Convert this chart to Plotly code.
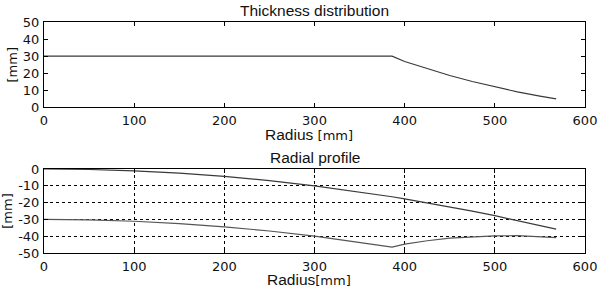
import plotly.graph_objects as go

# Thickness distribution
radius_t = [0, 386, 400, 425, 450, 475, 500, 525, 550, 568]
thickness = [30, 30, 26.9, 22.6, 18.7, 15.2, 12.0, 9.1, 6.6, 5.0]

# Radial profile
radius_p = [0, 50, 100, 150, 200, 250, 300, 350, 386, 400, 425, 450, 475, 500, 525, 550, 568]
upper = [0, -0.3, -1.1, -2.5, -4.4, -6.9, -10.0, -13.6, -16.5, -17.8, -20.1, -22.5, -25.1, -27.8, -30.6, -33.6, -35.8]
lower = [-30, -30.3, -31.1, -32.5, -34.4, -36.9, -40.0, -43.6, -46.5, -44.7, -42.7, -41.2, -40.3, -39.8, -39.7, -40.2, -40.8]

x_ticks = [0, 100, 200, 300, 400, 500, 600]
x_ticktext = ["0", "100", "200", "300", "400", "500", "600"]
y1_ticks = [0, 10, 20, 30, 40, 50]
y1_ticktext = ["0", "10", "20", "30", "40", "50"]
y2_ticks = [0, -10, -20, -30, -40, -50]
y2_ticktext = ["0", "-10", "-20", "-30", "-40", "-50"]

LINE = "#3a3a3a"
TICKFONT = dict(family="DejaVu Sans", size=13, color="#111")
TITLEFONT = dict(family="Liberation Sans, Arial", size=15.5, color="#111")

TOP_DOM = [0.63, 1]
BOT_DOM = [0, 0.3636]

fig = go.Figure()
fig.add_trace(go.Scatter(x=radius_t, y=thickness, mode="lines",
                         line=dict(color=LINE, width=1.2), xaxis="x", yaxis="y"))
fig.add_trace(go.Scatter(x=radius_p, y=upper, mode="lines",
                         line=dict(color=LINE, width=1.2), xaxis="x2", yaxis="y2"))
fig.add_trace(go.Scatter(x=radius_p, y=lower, mode="lines",
                         line=dict(color="#555", width=1.2), xaxis="x2", yaxis="y2"))

axis_common = dict(showline=True, linecolor="black", linewidth=1, mirror="allticks",
                   ticks="inside", ticklen=4, tickcolor="black", tickfont=TICKFONT,
                   zeroline=False, tickmode="array", automargin=False)

mm_span = "<span style='font-family:DejaVu Sans;font-size:13px'>[mm]</span>"

fig.update_layout(
    width=600, height=287,
    margin=dict(l=44, r=15, t=22, b=34),
    paper_bgcolor="white", plot_bgcolor="white",
    showlegend=False,
    xaxis=dict(domain=[0, 1], range=[0, 600], anchor="y", showgrid=False,
               tickvals=x_ticks, ticktext=x_ticktext, ticklabelstandoff=1,
               **axis_common),
    yaxis=dict(domain=TOP_DOM, range=[0, 50], anchor="x", showgrid=False,
               tickvals=y1_ticks, ticktext=y1_ticktext, ticklabelstandoff=1,
               title=dict(text="[mm]", font=TICKFONT, standoff=2),
               **axis_common),
    xaxis2=dict(domain=[0, 1], range=[0, 600], anchor="y2",
                showgrid=True, gridcolor="black", griddash="dot", gridwidth=1,
                tickvals=x_ticks, ticktext=x_ticktext, ticklabelstandoff=1,
                **axis_common),
    yaxis2=dict(domain=BOT_DOM, range=[-50, 0], anchor="x2",
                showgrid=True, gridcolor="black", griddash="dot", gridwidth=1,
                tickvals=y2_ticks, ticktext=y2_ticktext, ticklabelstandoff=1,
                title=dict(text="[mm]", font=TICKFONT, standoff=2),
                **axis_common),
    annotations=[
        dict(text="Thickness distribution", x=0.5, y=TOP_DOM[1], xref="paper", yref="paper",
             xanchor="center", yanchor="bottom", yshift=1, showarrow=False, font=TITLEFONT),
        dict(text="Radial profile", x=0.5, y=BOT_DOM[1], xref="paper", yref="paper",
             xanchor="center", yanchor="bottom", yshift=1, showarrow=False, font=TITLEFONT),
        dict(text="Radius " + mm_span, x=0.49, y=TOP_DOM[0], xref="paper", yref="paper",
             xanchor="center", yanchor="middle", yshift=-27, showarrow=False, font=TITLEFONT),
        dict(text="Radius" + mm_span, x=0.49, y=BOT_DOM[0], xref="paper", yref="paper",
             xanchor="center", yanchor="middle", yshift=-26, showarrow=False, font=TITLEFONT),
    ],
)

fig.write_html("out.html", config={"displayModeBar": False},
               post_script="document.body.style.margin='0px';document.body.style.overflow='hidden';")
